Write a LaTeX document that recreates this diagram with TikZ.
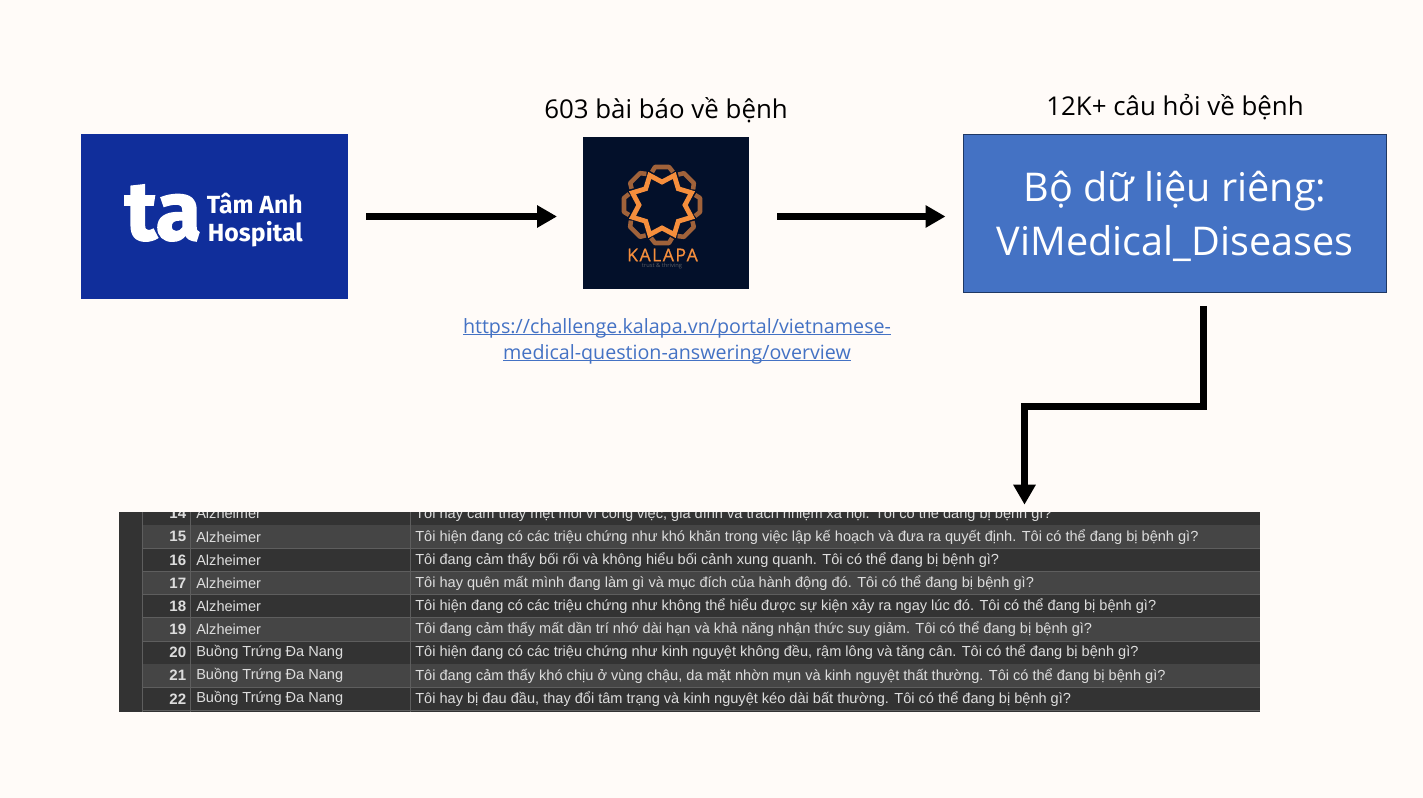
\documentclass[tikz,border=0pt]{standalone}
\usepackage{fontspec}
\setmainfont{Open Sans}
\newfontfamily\cellfont{Liberation Sans}
\newfontfamily\logofont{Fira Sans}
\usetikzlibrary{calc}
\usetikzlibrary{arrows.meta}
\definecolor{paper}{HTML}{FFFBF8}
\definecolor{taBlue}{HTML}{102E9B}
\definecolor{kaNavy}{HTML}{03102A}
\definecolor{kaOrange}{HTML}{F58E3C}
\definecolor{kaBrown}{HTML}{A0623A}
\definecolor{boxBlue}{HTML}{4472C4}
\definecolor{boxEdge}{HTML}{1F3864}
\definecolor{rowDark}{HTML}{333333}
\definecolor{rowLight}{HTML}{454545}
\definecolor{gridGrey}{HTML}{5E5E5E}
\definecolor{cellText}{HTML}{DDDDDD}
\newcommand{\linkline}[1]{\setbox0=\hbox{#1}\rlap{\rule[-1.7pt]{\wd0}{0.9pt}}\box0}
\tikzset{
  logobox/.style={inner sep=0pt,outer sep=0pt},
  flow/.style={line width=4.6pt,-{Triangle[length=15pt,width=16pt]}},
  title/.style={font=\fontsize{19.4}{24}\selectfont,text=black},
  cell/.style={font=\cellfont\fontsize{10.93}{13}\selectfont,text=cellText,inner sep=0pt,anchor=west},
}
\begin{document}
\begin{tikzpicture}[x=0.75pt,y=-0.75pt]
    \fill[paper] (0,0) rectangle (1423,798);
    \useasboundingbox (0,0) rectangle (1423,798);
    % logos and dataset box
    \node[logobox,fill=taBlue,minimum width=200.25pt,minimum height=123.75pt] (tamanh) at (214.5,216.5) {};
    \node[logobox,fill=kaNavy,minimum width=124.5pt,minimum height=114pt] (kalapa) at (666,213) {};
    \node[logobox,fill=boxBlue,draw=boxEdge,line width=0.9pt,minimum width=317.25pt,minimum height=118.5pt] (dataset) at (1175,213.5) {};
    \node[text=white,align=center,font=\fontsize{29.7}{40}\selectfont,inner sep=0pt] (dsname) at (1175,216.5)
      {Bộ dữ liệu riêng:\\ViMedical\_Diseases};
    \node[logobox,fill=rowDark,minimum width=855.75pt,minimum height=150pt] (sheet) at (689.5,612) {};
    % ta logo
    \node[text=white,font=\logofont\bfseries\fontsize{62}{62}\selectfont\addfontfeature{FakeBold=2},inner sep=0pt] (talogo) at (163,213) {ta};
    \node[text=white,font=\logofont\bfseries\fontsize{18.6}{21}\selectfont,inner sep=0pt,align=right,anchor=east] (taname) at (303,220)
      {Tâm Anh\\Hospital};
    % kalapa logo
    \foreach \a in {0,45,...,315}
      \draw[kaBrown,line width=3.4pt,line join=round,rotate around={\a:(662,205)}]
        (652,172) -- (655,167) -- (669,167) -- (673,172);
    \draw[kaOrange,line width=3.6pt,line join=miter]
      ($(662,205)+(90:23)$)
      \foreach \a in {0,45,...,315} { -- ($(662,205)+({90+\a+22.5}:32)$) -- ($(662,205)+({90+\a+45}:23)$) } -- cycle;
    \node[text=kaOrange,font=\fontsize{13.3}{15}\selectfont\addfontfeature{LetterSpace=8,FakeBold=0.6},inner sep=0pt] (kaname) at (662.5,255) {KALAPA};
    \node[text=gray!70!kaNavy,font=\fontsize{4.3}{5}\selectfont,inner sep=0pt] (kaslogan) at (662,266) {trust \& thriving};
    % titles and link
    \node[title] (artcount) at (666,110) {603 bài báo về bệnh};
    \node[title] (qcount) at (1175,107.5) {12K+ câu hỏi về bệnh};
    \node[text=boxBlue,align=center,font=\fontsize{14.75}{19.5}\selectfont,inner sep=0pt] (link) at (677,341)
      {\linkline{https://challenge.kalapa.vn/portal/vietnamese-}\\\linkline{medical-question-answering/overview}};
    % table rows
    \begin{scope}
      \clip (sheet.north west) rectangle (sheet.south east);
      \fill[rowDark] (142,512) rectangle (1260,525.3);
      \foreach \num/\disease/\question in {
        14/Alzheimer/{Tôi hay cảm thấy mệt mỏi vì công việc, gia đình và trách nhiệm xã hội. Tôi có thể đang bị bệnh gì?},
        15/Alzheimer/{Tôi hiện đang có các triệu chứng như khó khăn trong việc lập kế hoạch và đưa ra quyết định. Tôi có thể đang bị bệnh gì?},
        16/Alzheimer/{Tôi đang cảm thấy bối rối và không hiểu bối cảnh xung quanh. Tôi có thể đang bị bệnh gì?},
        17/Alzheimer/{Tôi hay quên mất mình đang làm gì và mục đích của hành động đó. Tôi có thể đang bị bệnh gì?},
        18/Alzheimer/{Tôi hiện đang có các triệu chứng như không thể hiểu được sự kiện xảy ra ngay lúc đó. Tôi có thể đang bị bệnh gì?},
        19/Alzheimer/{Tôi đang cảm thấy mất dần trí nhớ dài hạn và khả năng nhận thức suy giảm. Tôi có thể đang bị bệnh gì?},
        20/Buồng Trứng Đa Nang/{Tôi hiện đang có các triệu chứng như kinh nguyệt không đều, rậm lông và tăng cân. Tôi có thể đang bị bệnh gì?},
        21/Buồng Trứng Đa Nang/{Tôi đang cảm thấy khó chịu ở vùng chậu, da mặt nhờn mụn và kinh nguyệt thất thường. Tôi có thể đang bị bệnh gì?},
        22/Buồng Trứng Đa Nang/{Tôi hay bị đau đầu, thay đổi tâm trạng và kinh nguyệt kéo dài bất thường. Tôi có thể đang bị bệnh gì?}} {
        \pgfmathsetmacro{\rowy}{536.8+(\num-15)*23.15}
        \pgfmathsetmacro{\shade}{int(mod(\num,2))}
        \ifnum\shade=1
          \fill[rowLight] (142,\rowy-11.6) rectangle (1260,\rowy+11.6);
        \fi
        \draw[gridGrey,line width=0.75pt] (142,\rowy+11.6) -- (1260,\rowy+11.6);
        \node[cell,anchor=east,font=\cellfont\bfseries\fontsize{11.3}{13}\selectfont] (num\num) at (186.5,\rowy) {\num};
        \node[cell] (dis\num) at (196,\rowy) {\disease};
        \node[cell] (que\num) at (415,\rowy) {\question};
      }
      \foreach \colx in {142,190,410}
        \draw[gridGrey,line width=0.75pt] (\colx,512) -- (\colx,712);
    \end{scope}
    % arrows
    \coordinate (bend) at (1024.5,406.5);
    \draw[flow,shorten <=13.5pt,shorten >=19.5pt] (tamanh.east) -- (tamanh.east -| kalapa.west);
    \draw[flow,shorten <=21pt,shorten >=13.5pt] (tamanh.east -| kalapa.east) -- (tamanh.east -| dataset.west);
    \draw[flow,line width=5.2pt,shorten <=10pt,shorten >=5.5pt] ($(dataset.south)+(28.5,0)$) |- (bend) -- (bend |- sheet.north);
  \end{tikzpicture}
\end{document}
